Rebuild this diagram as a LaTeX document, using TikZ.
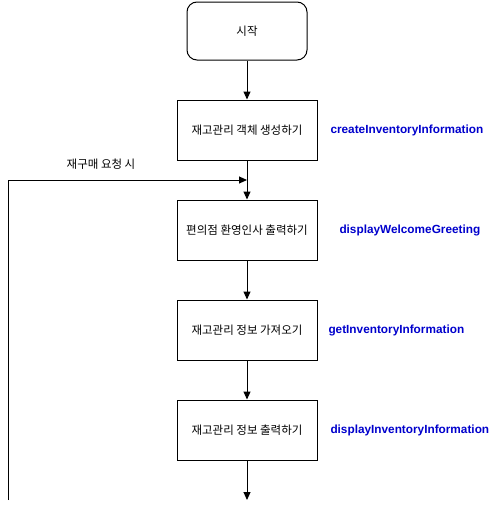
\documentclass[tikz,border=0pt]{standalone}
\usepackage{fontspec}
\setmainfont{Liberation Sans}
\newfontfamily\kr{Noto Sans CJK KR}
\usetikzlibrary{arrows.meta}
\definecolor{fnblue}{RGB}{0,0,204}

\begin{document}
\begin{tikzpicture}[x=1pt,y=-1pt,line width=1pt,
    stepbox/.style={draw,minimum width=140pt,minimum height=60pt,font=\kr\fontsize{11.5}{13}\selectfont},
    fnlabel/.style={anchor=west,text=fnblue,font=\bfseries\fontsize{11.8}{14}\selectfont,inner sep=0pt},
    flow/.style={-{Triangle[length=8pt,width=7pt]}}]
        \useasboundingbox (0,0) rectangle (491,509);
        % start
        \node[draw,rounded corners=10pt,minimum width=120pt,minimum height=58pt,font=\kr\fontsize{11.5}{13}\selectfont] (start) at (247,31) {시작};
        % steps
        \node[stepbox] (create) at (247,130) {재고관리 객체 생성하기};
        \node[fnlabel] (createfn) at (330,130) {createInventoryInformation};
        \node[stepbox] (greet) at (247,230) {편의점 환영인사 출력하기};
        \node[fnlabel] (greetfn) at (339,230) {displayWelcomeGreeting};
        \node[stepbox] (get) at (247,330) {재고관리 정보 가져오기};
        \node[fnlabel] (getfn) at (328,330) {getInventoryInformation};
        \node[stepbox] (show) at (247,430) {재고관리 정보 출력하기};
        \node[fnlabel] (showfn) at (330,430) {displayInventoryInformation};
        \coordinate (out) at (247,500);
        % flow
        \draw[flow] (start) -- (create);
        \draw[flow] (create) -- (greet);
        \draw[flow] (greet) -- (get);
        \draw[flow] (get) -- (show);
        \draw[flow] (show) -- (out);
        % repurchase loop
        \coordinate (loopstart) at (8,500);
        \coordinate (join) at (247,180);
        \draw[flow] (loopstart) |- (join);
        \node[font=\kr\fontsize{11.5}{13}\selectfont] (looplabel) at (101,164) {재구매 요청 시};
    \end{tikzpicture}
\end{document}
